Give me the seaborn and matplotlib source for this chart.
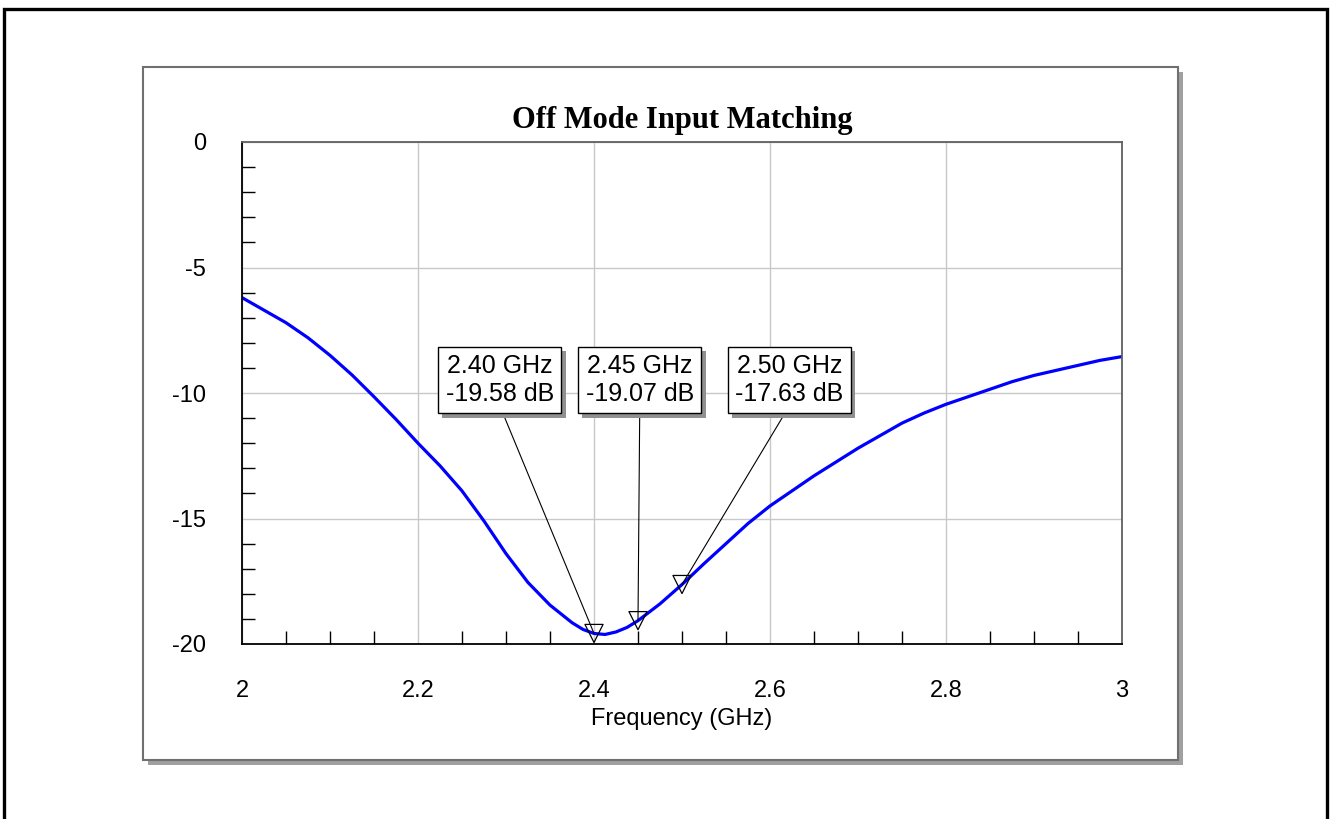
import matplotlib
matplotlib.use("Agg")
import matplotlib.pyplot as plt
import matplotlib.patches as mpatches
import matplotlib.patheffects as pe
from matplotlib.ticker import MultipleLocator
import numpy as np
import pandas as pd
import seaborn as sns

# S11 sweep, off mode (GHz, dB)
freq_ghz = [2.000, 2.025, 2.050, 2.075, 2.100, 2.125, 2.150, 2.175, 2.200, 2.225,
            2.250, 2.275, 2.300, 2.325, 2.350, 2.375, 2.3875, 2.400, 2.4125, 2.425,
            2.4375, 2.450, 2.475,
            2.500, 2.525, 2.550, 2.575, 2.600, 2.625, 2.650, 2.675, 2.700, 2.725,
            2.750, 2.775, 2.800, 2.825, 2.850, 2.875, 2.900, 2.925, 2.950, 2.975,
            3.000]
s11_db = [-6.2, -6.7, -7.2, -7.8, -8.5, -9.28, -10.15, -11.05, -12.0, -12.9,
          -13.9, -15.1, -16.4, -17.55, -18.45, -19.15, -19.42, -19.58, -19.62, -19.52,
          -19.34, -19.07, -18.4,
          -17.63, -16.8, -16.0, -15.2, -14.5, -13.9, -13.3, -12.75, -12.2, -11.7,
          -11.2, -10.8, -10.45, -10.15, -9.85, -9.55, -9.3, -9.1, -8.9, -8.7,
          -8.55]

# Markers
marker_freq = [2.40, 2.45, 2.50]
marker_db = [-19.58, -19.07, -17.63]
marker_box_x = [2.293, 2.452, 2.622]
marker_box_y = [-9.48, -9.48, -9.48]

x_ticks = [2, 2.2, 2.4, 2.6, 2.8, 3]
x_tick_labels = ["2", "2.2", "2.4", "2.6", "2.8", "3"]
y_ticks = [0, -5, -10, -15, -20]
y_tick_labels = ["0", "-5", "-10", "-15", "-20"]

sns.set_style("white")
plt.rcParams["font.family"] = ["Liberation Sans", "DejaVu Sans"]
plt.rcParams["text.color"] = "black"
plt.rcParams["axes.labelcolor"] = "black"
plt.rcParams["xtick.color"] = "black"
plt.rcParams["ytick.color"] = "black"

W, H, DPI = 1331, 819, 100
fig = plt.figure(figsize=(W / DPI, H / DPI), dpi=DPI)


def px_rect(x0, y0, x1, y1, **kw):
    """Rectangle given in pixel coordinates (origin at top-left)."""
    r = mpatches.Rectangle((x0 / W, 1 - y1 / H), (x1 - x0) / W, (y1 - y0) / H,
                           transform=fig.transFigure, **kw)
    fig.patches.append(r)
    return r


# outer frame
px_rect(4, 9, 1327, 840, fill=False, edgecolor="black", linewidth=2.4, zorder=-3)
# panel shadow + panel
px_rect(148, 72, 1183, 765, facecolor="#a0a0a0", edgecolor="none", zorder=-2)
px_rect(143, 67, 1178, 760, facecolor="white", edgecolor="#707070", linewidth=1.5,
        zorder=-1)

ax = fig.add_axes([242 / W, 1 - 644 / H, (1122 - 242) / W, (644 - 142) / H])
ax.set_facecolor("none")

df = pd.DataFrame({"Frequency (GHz)": freq_ghz, "S11 (dB)": s11_db})
sns.lineplot(data=df, x="Frequency (GHz)", y="S11 (dB)", color="#0000ff",
             linewidth=2.3, ax=ax, zorder=3)

mk = pd.DataFrame({"f": marker_freq, "db": marker_db})
sns.scatterplot(data=mk, x="f", y="db", marker="v", s=170, facecolors="none",
                edgecolor="black", linewidth=0.9, ax=ax, zorder=4)

for f, d, bx, by in zip(marker_freq, marker_db, marker_box_x, marker_box_y):
    t = ax.annotate(f"{f:.2f} GHz\n{d:.2f} dB", xy=(f, d), xytext=(bx, by),
                    ha="center", va="center", fontsize=18, linespacing=1.2,
                    bbox=dict(boxstyle="square,pad=0.3", facecolor="white",
                              edgecolor="black", linewidth=1.0),
                    arrowprops=dict(arrowstyle="-", color="black", lw=0.8,
                                    shrinkA=0, shrinkB=0, relpos=(0.5, 0.0)),
                    zorder=5)
    t.get_bbox_patch().set_path_effects([
        pe.SimplePatchShadow(offset=(3, -3), shadow_rgbFace="#909090", alpha=1.0),
        pe.Normal()])

ax.set_xlim(2, 3)
ax.set_ylim(-20, 0)
ax.set_xticks(x_ticks)
ax.set_xticklabels(x_tick_labels)
ax.set_yticks(y_ticks)
ax.set_yticklabels(y_tick_labels)
ax.xaxis.set_minor_locator(MultipleLocator(0.05))
ax.yaxis.set_minor_locator(MultipleLocator(1))
ax.tick_params(axis="both", which="both", bottom=True, left=True, top=False,
               right=False)
ax.tick_params(axis="both", which="major", length=0, labelsize=17,
               labelcolor="black")
ax.tick_params(axis="x", which="major", pad=26)
ax.tick_params(axis="y", which="major", pad=26)
ax.tick_params(axis="both", which="minor", direction="in", length=9.3, width=1.0,
               color="black")
ax.grid(True, which="major", color="#c8c8c8", linewidth=1.0)
ax.grid(False, which="minor")
ax.set_axisbelow(True)

for side in ["left", "bottom"]:
    ax.spines[side].set_color("black")
    ax.spines[side].set_linewidth(1.3)
for side in ["top", "right"]:
    ax.spines[side].set_color("#606060")
    ax.spines[side].set_linewidth(1.3)
for s in ax.spines.values():
    s.set_visible(True)
    s.set_zorder(6)

ax.set_xlabel("Frequency (GHz)", fontsize=17, labelpad=4, color="black")
ax.set_ylabel("")
ax.set_title("Off Mode Input Matching", fontsize=22, fontweight="bold",
             family=["Liberation Serif", "DejaVu Serif"], pad=10, color="black")

fig.savefig("out.png", dpi=DPI)
